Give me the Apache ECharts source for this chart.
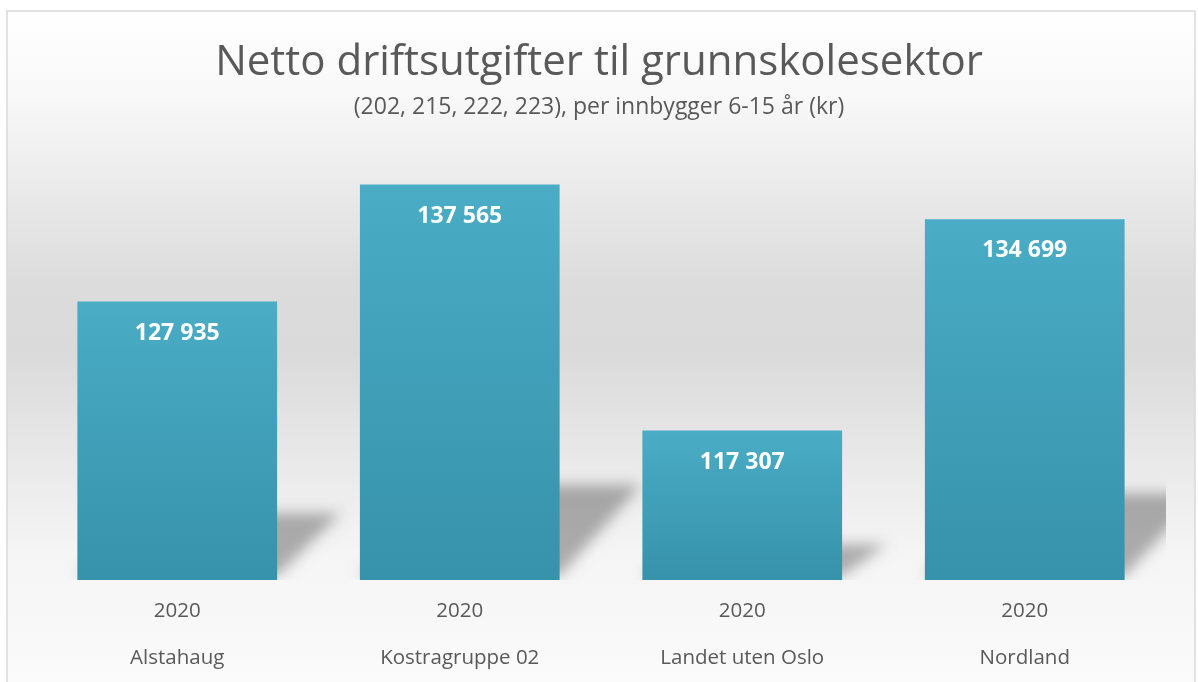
<!DOCTYPE html>
<html>
<head>
<meta charset="utf-8">
<script src="https://cdn.jsdelivr.net/npm/echarts@6/dist/echarts.min.js"></script>
<style>
  html, body { margin: 0; padding: 0; background: #fff; }
  #chart { width: 1198px; height: 682px; }
</style>
</head>
<body>
<div id="chart"></div>
<script>
const categories = ['Alstahaug', 'Kostragruppe 02', 'Landet uten Oslo', 'Nordland'];
const years = ['2020', '2020', '2020', '2020'];
const values = [127935, 137565, 117307, 134699];
const yMin = 105000;
const yMax = 140000;

const fmt = v => String(v).replace(/\B(?=(\d{3})+(?!\d))/g, ' ');
const font = '"Open Sans", "Noto Sans", sans-serif';

const chart = echarts.init(document.getElementById('chart'));

chart.setOption({
  animation: false,
  graphic: [{
    type: 'rect',
    z: -10,
    silent: true,
    shape: { x: 7, y: 11, width: 1188, height: 680 },
    style: {
      stroke: '#d9d9d9',
      lineWidth: 1.5,
      fill: new echarts.graphic.LinearGradient(0, 0, 0, 1, [
        { offset: 0, color: '#ffffff' },
        { offset: 0.13, color: '#f8f8f8' },
        { offset: 0.4, color: '#dcdcdc' },
        { offset: 0.5, color: '#dadada' },
        { offset: 0.65, color: '#e8e8e8' },
        { offset: 0.8, color: '#f5f5f5' },
        { offset: 1, color: '#fbfbfb' }
      ])
    }
  }],
  title: {
    text: 'Netto driftsutgifter til grunnskolesektor',
    subtext: '(202, 215, 222, 223), per innbygger 6-15 år (kr)',
    left: 'center',
    top: 37,
    itemGap: 12,
    textStyle: { fontFamily: font, fontSize: 42, fontWeight: 'normal', color: '#595959' },
    subtextStyle: { fontFamily: font, fontSize: 23, color: '#595959' }
  },
  grid: { left: 36, right: 32, top: 155, bottom: 102, outerBoundsMode: 'none' },
  xAxis: {
    type: 'category',
    data: categories,
    axisLine: { show: false },
    axisTick: { show: false },
    axisLabel: {
      margin: 8,
      fontFamily: font,
      fontSize: 20.5,
      color: '#595959',
      lineHeight: 47,
      formatter: (v, i) => years[i] + '\n' + v
    }
  },
  yAxis: {
    type: 'value',
    min: yMin,
    max: yMax,
    show: false,
    splitLine: { show: false }
  },
  series: [
    {
      type: 'custom',
      z: 1,
      silent: true,
      clip: true,
      data: values.map((v, i) => [i, v]),
      encode: { x: 0, y: 1 },
      renderItem: (params, api) => {
        const top = api.coord([api.value(0), api.value(1)]);
        const base = api.coord([api.value(0), yMin]);
        const w = api.size([1, 0])[0] * 0.707;
        const h = base[1] - top[1];
        const off = 3000;
        const xL = base[0] - w / 2 - off;
        const xR = base[0] + w / 2 - off;
        const y0 = base[1];
        const yT = y0 - h * 0.24;
        const d = h * 0.15 + 22;
        return {
          type: 'polygon',
          shape: { points: [[xL, y0 - 4], [xR, y0 - 4], [xR + d, yT], [xL + d, yT]] },
          style: {
            fill: '#000',
            shadowBlur: 14,
            shadowOffsetX: off,
            shadowColor: 'rgba(0,0,0,0.3)'
          }
        };
      }
    },
    {
      type: 'bar',
      z: 2,
      data: values,
      barCategoryGap: '29.3%',
      itemStyle: {
        color: new echarts.graphic.LinearGradient(0, 0, 0, 1, [
          { offset: 0, color: '#4aacc5' },
          { offset: 1, color: '#3792ab' }
        ])
      },
      label: {
        show: true,
        position: 'insideTop',
        distance: 20,
        formatter: p => fmt(p.value),
        fontFamily: font,
        fontSize: 23,
        fontWeight: 'bold',
        color: '#ffffff'
      }
    }
  ]
});
</script>
</body>
</html>
